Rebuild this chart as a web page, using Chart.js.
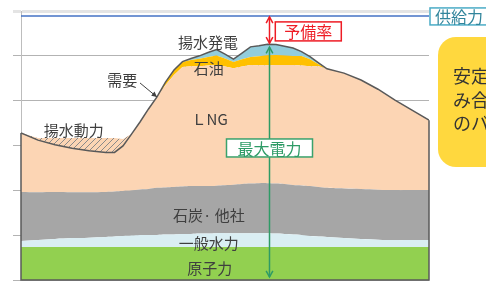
<!DOCTYPE html>
<html>
<head>
<meta charset="utf-8">
<script src="https://cdn.jsdelivr.net/npm/chart.js@4.4.0/dist/chart.umd.min.js"></script>
<style>
  body { margin: 0; background: #fff; }
  canvas { display: block; }
</style>
</head>
<body>
<canvas id="loadChart" width="486" height="283"></canvas>
<script>
// time of day (h)
const hours = [0, 1, 2, 3, 4, 5, 5.5, 6, 6.5, 7, 7.5, 8, 8.5, 9, 9.5, 10, 10.5, 11, 11.5, 12, 12.5, 13, 13.5, 14, 14.5, 15, 15.5, 16, 16.5, 17, 17.5, 18, 19, 20, 21, 22, 23, 24];

// supply by source (stacked from the bottom)
const nuclear = [14.7, 14.7, 14.7, 14.7, 14.7, 14.7, 14.7, 14.7, 14.7, 14.7, 14.7, 14.7, 14.7, 14.7, 14.7, 14.7, 14.7, 14.7, 14.7, 14.7, 14.7, 14.7, 14.7, 14.7, 14.7, 14.7, 14.7, 14.7, 14.7, 14.7, 14.7, 14.7, 14.7, 14.7, 14.7, 14.7, 14.7, 14.7];
const hydro = [2.7, 3.1, 3.6, 4.0, 4.2, 4.5, 4.7, 4.9, 5.1, 5.4, 5.4, 5.4, 5.6, 5.6, 5.8, 5.8, 6.0, 6.0, 6.2, 6.2, 6.2, 6.2, 6.2, 6.2, 6.2, 6.0, 5.8, 5.6, 5.4, 4.9, 4.7, 4.5, 4.0, 3.6, 3.3, 3.1, 3.1, 3.1];
const coal = [21.9, 21.4, 21.0, 20.5, 20.3, 20.1, 20.1, 20.1, 20.1, 20.3, 20.5, 21.0, 21.0, 21.2, 21.2, 21.4, 21.2, 21.2, 21.2, 21.4, 21.6, 21.9, 22.1, 22.3, 22.3, 22.3, 22.3, 22.1, 22.1, 22.3, 22.1, 21.9, 22.1, 22.3, 22.3, 22.3, 22.3, 22.3];
const lng = [26.3, 24.1, 24.1, 24.1, 24.1, 24.1, 23.9, 23.2, 25.2, 30.1, 35.7, 40.6, 45.7, 50.0, 53.3, 53.5, 53.5, 53.8, 53.8, 52.9, 52.0, 52.4, 52.9, 52.6, 52.6, 52.9, 53.1, 53.5, 53.5, 53.5, 53.8, 53.1, 51.5, 48.6, 44.8, 40.1, 35.7, 31.2];
const oil = [0, 0, 0, 0, 0, 0, 0, 0, 0, 0, 0, 0, 1.3, 2.2, 2.2, 2.7, 3.3, 3.8, 4.2, 3.6, 2.7, 3.3, 3.6, 4.0, 4.5, 4.5, 4.2, 4.0, 4.2, 3.1, 0.9, 0, 0, 0, 0, 0, 0, 0];
const pumpGen = [0, 0, 0, 0, 0, 0, 0, 0, 0, 0, 0, 0, 0, 0, 0.2, 0.7, 1.3, 2.0, 2.7, 2.0, 1.3, 2.7, 4.5, 4.7, 4.9, 4.7, 4.2, 3.6, 2.0, 1.1, 0.7, 0, 0, 0, 0, 0, 0, 0];
// night-time pumping load (揚水動力)
const pumpPower = [0, 0.9, 3.1, 4.5, 5.6, 6.5, 6.5, 3.1, 0, 0, 0, 0, 0, 0, 0, 0, 0, 0, 0, 0, 0, 0, 0, 0, 0, 0, 0, 0, 0, 0, 0, 0, 0, 0, 0, 0, 0, 0];
const supplyCapacity = 117.8;

const yMax = 120;
const yStep = 20;

// cumulative tops for the stacked areas
function addUp(a, b) {
  return a.map((v, i) => +(v + b[i]).toFixed(2));
}
const topNuclear = nuclear;
const topHydro = addUp(topNuclear, hydro);
const topCoal = addUp(topHydro, coal);
const topLng = addUp(topCoal, lng);
const topOil = addUp(topLng, oil);
const topPump = addUp(topOil, pumpGen);
const demand = topPump.map((v, i) => +(v - pumpPower[i]).toFixed(2));

const pts = (arr) => arr.map((v, i) => ({ x: hours[i], y: v }));

function makeHatch() {
  const c = document.createElement("canvas");
  c.width = 6;
  c.height = 6;
  const g = c.getContext("2d");
  g.strokeStyle = "#8a8a8a";
  g.lineWidth = 1;
  g.beginPath();
  g.moveTo(0, 6); g.lineTo(6, 0);
  g.moveTo(-1, 1); g.lineTo(1, -1);
  g.moveTo(5, 7); g.lineTo(7, 5);
  g.stroke();
  return g.createPattern(c, "repeat");
}

const FONT = '"Noto Sans CJK JP", "Noto Sans", sans-serif';

function chevron(ctx, x, y, ang, size) {
  ctx.beginPath();
  ctx.moveTo(x - size * Math.cos(ang - 0.5), y - size * Math.sin(ang - 0.5));
  ctx.lineTo(x, y);
  ctx.lineTo(x - size * Math.cos(ang + 0.5), y - size * Math.sin(ang + 0.5));
  ctx.stroke();
}

function doubleArrow(ctx, x, y0, y1, color) {
  ctx.save();
  ctx.strokeStyle = color;
  ctx.lineWidth = 1.5;
  ctx.beginPath();
  ctx.moveTo(x, y0);
  ctx.lineTo(x, y1);
  ctx.stroke();
  chevron(ctx, x, y0, -Math.PI / 2, 7);
  chevron(ctx, x, y1, Math.PI / 2, 7);
  ctx.restore();
}

function boxLabel(ctx, text, cx, cy, w, h, stroke, color) {
  ctx.save();
  ctx.fillStyle = "#fff";
  ctx.fillRect(cx - w / 2, cy - h / 2, w, h);
  ctx.strokeStyle = stroke;
  ctx.lineWidth = 1.5;
  ctx.strokeRect(cx - w / 2, cy - h / 2, w, h);
  ctx.fillStyle = color;
  ctx.font = "16px " + FONT;
  ctx.textAlign = "center";
  ctx.textBaseline = "middle";
  ctx.fillText(text, cx, cy + 1);
  ctx.restore();
}

// labels, arrows, callouts
const annotate = {
  id: "annotate",
  afterDatasetsDraw(chart) {
    const { ctx, scales: { x, y }, chartArea } = chart;
    const X = (t) => x.getPixelForValue(t);
    const Y = (v) => y.getPixelForValue(v);

    // outline of the stacked block
    ctx.save();
    ctx.strokeStyle = "#5a5a5a";
    ctx.lineWidth = 1.5;
    ctx.beginPath();
    ctx.moveTo(X(0), Y(topPump[0]));
    ctx.lineTo(X(0), Y(0));
    ctx.lineTo(X(24), Y(0));
    ctx.lineTo(X(24), Y(topPump[topPump.length - 1]));
    ctx.stroke();
    ctx.restore();

    // source labels
    ctx.save();
    ctx.fillStyle = "#3f3f3f";
    ctx.font = "15px " + FONT;
    ctx.textAlign = "center";
    ctx.textBaseline = "middle";
    ctx.fillText("揚水発電", X(11.0), Y(106.2));
    ctx.fillText("石油", X(11.05), Y(94.6));
    ctx.fillText("需要", X(5.95), Y(89.2));
    ctx.fillText("ＬNG", X(11.1), Y(71.8));
    ctx.fillText("揚水動力", X(3.1), Y(66.9));
    ctx.fillText("石炭· 他社", X(11.05), Y(29.0));
    ctx.fillText("一般水力", X(11.05), Y(16.5));
    ctx.fillText("原子力", X(11.1), Y(5.4));
    ctx.restore();

    // demand callout arrow
    ctx.save();
    const ax0 = X(7.0), ay0 = Y(87.9), ax1 = X(8.0), ay1 = Y(81.6);
    const ang = Math.atan2(ay1 - ay0, ax1 - ax0);
    ctx.strokeStyle = "#404040";
    ctx.fillStyle = "#404040";
    ctx.lineWidth = 1;
    ctx.beginPath();
    ctx.moveTo(ax0, ay0);
    ctx.lineTo(ax1, ay1);
    ctx.stroke();
    ctx.beginPath();
    ctx.moveTo(ax1, ay1);
    ctx.lineTo(ax1 - 6 * Math.cos(ang - 0.45), ay1 - 6 * Math.sin(ang - 0.45));
    ctx.lineTo(ax1 - 6 * Math.cos(ang + 0.45), ay1 - 6 * Math.sin(ang + 0.45));
    ctx.closePath();
    ctx.fill();
    ctx.restore();

    // peak: reserve margin and maximum demand
    const peakIdx = demand.indexOf(Math.max(...demand));
    const px = X(hours[peakIdx]) + 2;
    doubleArrow(ctx, px, Y(supplyCapacity) + 1, Y(demand[peakIdx]) - 1, "#ee1c25");
    doubleArrow(ctx, px, Y(demand[peakIdx]) + 3, Y(0) - 3, "#2e9b66");
    boxLabel(ctx, "予備率", X(16.9), Y(110.9), 66, 19, "#ee1c25", "#ee1c25");
    boxLabel(ctx, "最大電力", px, Y(58.9), 86, 18, "#3aa26c", "#2e9b66");

    // supply capacity tag
    ctx.save();
    const sy = Y(supplyCapacity);
    ctx.fillStyle = "#fff";
    ctx.fillRect(chartArea.right + 1, sy - 8, 70, 17);
    ctx.strokeStyle = "#4bacc6";
    ctx.lineWidth = 1.5;
    ctx.strokeRect(chartArea.right + 1, sy - 8, 70, 17);
    ctx.fillStyle = "#31859c";
    ctx.font = "16px " + FONT;
    ctx.textBaseline = "middle";
    ctx.fillText("供給力", chartArea.right + 6, sy + 1);
    ctx.restore();

    // yellow note box (cut off at the right edge)
    ctx.save();
    ctx.fillStyle = "#ffd83e";
    ctx.beginPath();
    ctx.roundRect(chartArea.right + 9, 37, 90, 130, 18);
    ctx.fill();
    ctx.fillStyle = "#333";
    ctx.font = "18px " + FONT;
    ctx.textBaseline = "middle";
    ctx.fillText("安定", chartArea.right + 24, 76);
    ctx.fillText("み合", chartArea.right + 24, 100);
    ctx.fillText("のバ", chartArea.right + 24, 123);
    ctx.restore();
  },
};

document.addEventListener("DOMContentLoaded", () => {
  Chart.defaults.font.family = FONT;
  const hatch = makeHatch();

  new Chart(document.getElementById("loadChart"), {
    type: "line",
    data: {
      datasets: [
        {
          label: "需要",
          data: pts(demand),
          borderColor: "#595959",
          borderWidth: 1.5,
          tension: 0,
          fill: { target: 4, above: "rgba(0,0,0,0)", below: hatch },
        },
        { label: "原子力", data: pts(topNuclear), backgroundColor: "#92d050", borderWidth: 0, tension: 0, fill: "origin" },
        { label: "一般水力", data: pts(topHydro), backgroundColor: "#daeef3", borderWidth: 0, tension: 0.4, fill: "-1" },
        { label: "石炭・他社", data: pts(topCoal), backgroundColor: "#a6a6a6", borderWidth: 0, tension: 0.4, fill: "-1" },
        { label: "LNG", data: pts(topLng), backgroundColor: "#fcd5b4", borderWidth: 0, tension: 0, fill: "-1" },
        { label: "石油", data: pts(topOil), backgroundColor: "#ffc000", borderWidth: 0, tension: 0, fill: "-1" },
        { label: "揚水発電", data: pts(topPump), backgroundColor: "#92cddc", borderWidth: 0, tension: 0, fill: "-1" },
        {
          label: "供給力",
          data: [{ x: 0, y: supplyCapacity }, { x: 24, y: supplyCapacity }],
          borderColor: "#4472c4",
          borderWidth: 1.5,
          fill: false,
        },
      ],
    },
    options: {
      responsive: false,
      animation: false,
      devicePixelRatio: 1,
      layout: { padding: { left: 13, right: 57, top: 11, bottom: 3 } },
      elements: { point: { radius: 0 } },
      plugins: { legend: { display: false }, tooltip: { enabled: false } },
      scales: {
        x: { type: "linear", min: 0, max: 24, display: false },
        y: {
          min: 0,
          max: yMax,
          ticks: { stepSize: yStep, display: false },
          grid: {
            color: (c) => (c.tick && c.tick.value === yMax ? "#e4e4e4" : "#b3b3b3"),
            lineWidth: (c) => (c.tick && c.tick.value === yMax ? 3 : 1),
            drawTicks: true,
            tickLength: 8,
          },
          border: { display: true, color: "#bdbdbd", width: 1 },
        },
      },
    },
    plugins: [annotate],
  });
});
</script>
</body>
</html>
